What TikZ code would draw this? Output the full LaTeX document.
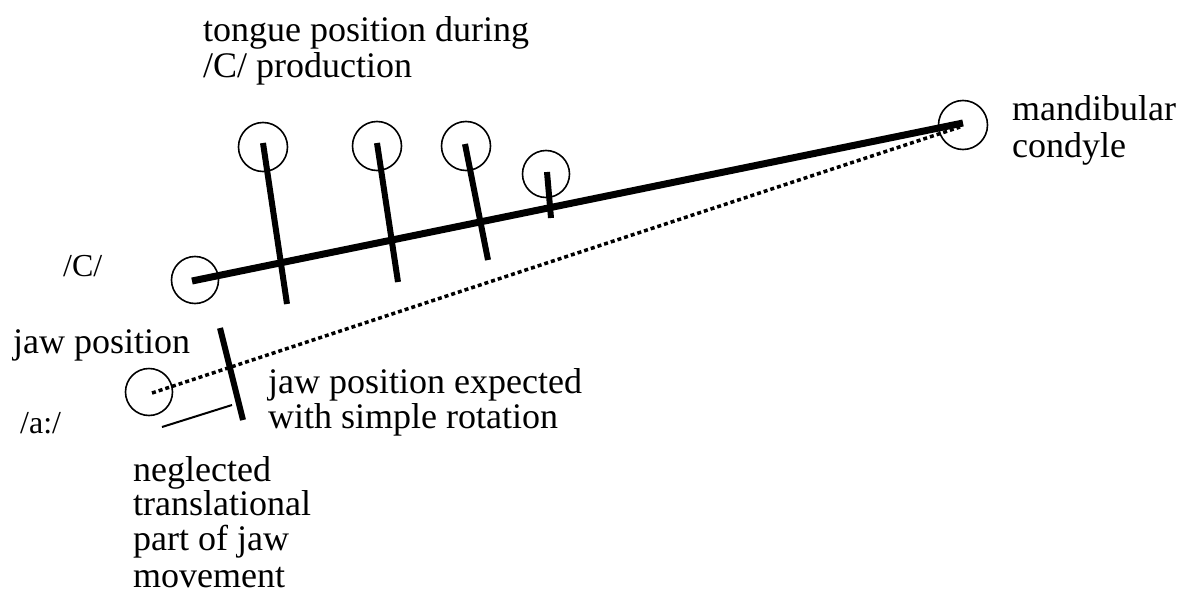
\documentclass[tikz,border=0pt]{standalone}
\usepackage{fontspec}
\setmainfont{Liberation Serif}
\begin{document}
\begin{tikzpicture}[x=1pt,y=-1pt,
  circ/.style={draw,circle,line width=1.6pt,minimum size=47pt,inner sep=0pt},
  bigcirc/.style={draw,circle,line width=1.6pt,minimum size=49pt,inner sep=0pt},
  heavy/.style={line width=7pt},
  jawline/.style={line width=6pt},
  dotline/.style={line width=3.5pt,dash pattern=on 4pt off 3pt},
  thinline/.style={line width=2pt},
  lbl/.style={anchor=base west,inner sep=0pt,font=\fontsize{36}{36}\selectfont},
  slbl/.style={anchor=base west,inner sep=0pt,font=\fontsize{32}{32}\selectfont}]
\useasboundingbox (0,0) rectangle (1178,597);
% circles
\node[circ] (cC) at (195,280) {};
\node[circ] (ca) at (149,392) {};
\node[bigcirc] (cond) at (963,125) {};
\node[bigcirc] (t1) at (263,147) {};
\node[bigcirc] (t2) at (377,146) {};
\node[bigcirc] (t3) at (466,146) {};
\node[circ] (t4) at (546,174) {};
% coordinates
\coordinate (mS) at (192,281);
\coordinate (mE) at (963,123);
\coordinate (p1) at (287,304);
\coordinate (p2) at (398,282);
\coordinate (p3) at (488,260);
\coordinate (p4) at (551,218);
\coordinate (aS) at (152,393);
\coordinate (aE) at (960,127);
\coordinate (jA) at (220,328);
\coordinate (jB) at (243,420);
\coordinate (nA) at (162,427);
\coordinate (nB) at (232,405);
% main jaw line
\draw[heavy] (mS) -- (mE);
% tongue lines
\draw[jawline] (263,143) -- (p1);
\draw[jawline] (377,143) -- (p2);
\draw[jawline] (465,144) -- (p3);
\draw[jawline] (547,172) -- (p4);
% dotted rotation line
\draw[dotline] (aS) -- (aE);
% expected jaw position
\draw[jawline] (jA) -- (jB);
% translational part
\draw[thinline] (nA) -- (nB);
% labels
\node[lbl] (l1) at (203,41) {tongue position during};
\node[lbl] (l2) at (203,77) {/C/ production};
\node[slbl] (lC) at (63,276) {/C/};
\node[lbl] (lj) at (13,353) {jaw position};
\node[slbl] (la) at (20,433) {/a:/};
\node[lbl] (le1) at (268,393) {jaw position expected};
\node[lbl] (le2) at (268,428) {with simple rotation};
\node[lbl] (n1) at (133,481) {neglected};
\node[lbl] (n2) at (133,515) {translational};
\node[lbl] (n3) at (133,550) {part of jaw};
\node[lbl] (n4) at (133,587) {movement};
\node[lbl] (m1) at (1012,120) {mandibular};
\node[lbl] (m2) at (1012,157) {condyle};
\end{tikzpicture}
\end{document}
